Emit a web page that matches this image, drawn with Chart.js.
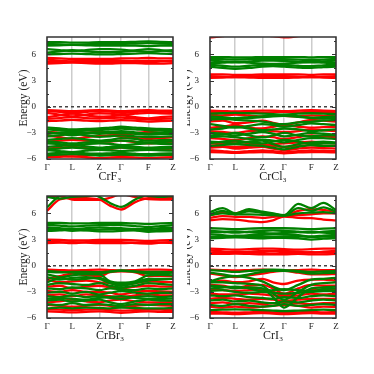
<!DOCTYPE html>
<html lang="en">
<head>
  <meta charset="UTF-8">
  <title>CrX3 band structures</title>
  <script src="https://cdn.jsdelivr.net/npm/chart.js"></script>
  <style>
    body { margin: 0; background: #fff; }
    #wrap { position: relative; width: 374px; height: 374px; overflow: hidden; }
    .clip { position: absolute; overflow: hidden; }
    canvas { position: absolute; }
  </style>
</head>
<body>
<div id="wrap"></div>
<script>
// k-path: high symmetry points and the sampled points along the path
const K_POS    = [0, 0.2, 0.415, 0.588, 0.804, 1];
const K_LABELS = ['Γ', 'L', 'Z', 'Γ', 'F', 'Z'];
const K_PATH   = [0, 0.1, 0.2, 0.31, 0.415, 0.5, 0.588, 0.7, 0.804, 0.9, 1.0];
const Y_MAJOR  = [-6, -3, 0, 3, 6];
const Y_MINOR  = [-4.5, -1.5, 1.5, 4.5, 7.5];
const TITLES   = ['CrF₃', 'CrCl₃', 'CrBr₃', 'CrI₃'];

// band energies (eV) at K_PATH
const crf3Green = [
  [7.4,7.4,7.35,7.35,7.4,7.4,7.4,7.45,7.5,7.45,7.4],
  [7.2,7.15,7.1,7.15,7.2,7.2,7.2,7.25,7.3,7.25,7.2],
  [7.0,7.05,7.1,7.05,7.0,7.0,7.0,7.0,6.95,7.0,7.0],
  [6.6,6.5,6.4,6.5,6.6,6.6,6.55,6.4,6.3,6.4,6.5],
  [6.2,6.35,6.5,6.35,6.25,6.25,6.3,6.45,6.6,6.5,6.3],
  [6.0,6.05,6.1,6.05,6.0,6.0,6.05,6.1,6.15,6.1,6.05],
  [-2.4,-2.5,-2.6,-2.55,-2.5,-2.4,-2.3,-2.4,-2.5,-2.55,-2.6],
  [-2.6,-2.7,-2.8,-2.75,-2.7,-2.6,-2.5,-2.6,-2.7,-2.75,-2.8],
  [-2.9,-3.1,-3.3,-3.1,-2.95,-2.9,-2.8,-2.95,-3.1,-3.0,-2.95],
  [-3.1,-3.0,-2.9,-3.0,-3.1,-3.05,-3.0,-3.1,-3.2,-3.15,-3.1],
  [-3.4,-3.3,-3.1,-3.3,-3.45,-3.4,-3.3,-3.4,-3.5,-3.45,-3.4],
  [-3.8,-3.7,-3.6,-3.75,-3.9,-3.8,-3.6,-3.7,-3.9,-3.85,-3.8],
  [-4.0,-4.1,-4.2,-4.1,-4.0,-3.95,-3.9,-4.0,-4.1,-4.05,-4.0],
  [-4.2,-4.3,-4.45,-4.3,-4.2,-4.25,-4.4,-4.3,-4.2,-4.25,-4.3],
  [-4.6,-4.5,-4.4,-4.55,-4.7,-4.6,-4.5,-4.6,-4.7,-4.65,-4.6],
  [-4.9,-4.8,-4.7,-4.8,-4.85,-4.75,-4.7,-4.8,-4.85,-4.8,-4.75],
  [-5.0,-5.1,-5.2,-5.05,-4.95,-5.0,-5.1,-5.0,-4.95,-5.0,-5.05],
  [-5.4,-5.3,-5.25,-5.35,-5.4,-5.35,-5.3,-5.4,-5.45,-5.4,-5.35],
  [-5.6,-5.5,-5.45,-5.5,-5.6,-5.55,-5.5,-5.55,-5.6,-5.55,-5.5]
];
const crf3Red = [
  [5.6,5.55,5.5,5.5,5.5,5.5,5.55,5.55,5.6,5.55,5.55],
  [5.4,5.3,5.2,5.3,5.35,5.35,5.3,5.2,5.1,5.2,5.3],
  [5.1,5.15,5.2,5.15,5.1,5.1,5.15,5.25,5.3,5.25,5.2],
  [4.95,5.0,5.05,5.0,4.95,4.95,5.0,5.0,4.95,4.95,5.0],
  [-0.4,-0.45,-0.5,-0.45,-0.4,-0.45,-0.5,-0.45,-0.4,-0.45,-0.45],
  [-0.5,-0.6,-0.75,-0.6,-0.5,-0.55,-0.7,-0.6,-0.5,-0.55,-0.6],
  [-0.7,-0.9,-1.1,-0.9,-0.75,-0.8,-0.9,-0.8,-0.7,-0.75,-0.8],
  [-1.2,-1.0,-0.8,-1.0,-1.15,-1.1,-1.0,-1.2,-1.35,-1.2,-1.1],
  [-1.4,-1.3,-1.2,-1.3,-1.35,-1.3,-1.25,-1.35,-1.45,-1.4,-1.35],
  [-1.65,-1.6,-1.5,-1.6,-1.65,-1.6,-1.55,-1.6,-1.7,-1.65,-1.6],
  [-2.9,-3.0,-3.2,-3.0,-2.9,-3.05,-3.2,-3.05,-2.9,-3.0,-3.1],
  [-3.3,-3.5,-3.7,-3.5,-3.35,-3.3,-3.4,-3.6,-3.7,-3.6,-3.5],
  [-4.0,-3.9,-3.8,-3.9,-4.0,-4.0,-3.9,-4.05,-4.2,-4.1,-4.0],
  [-4.8,-4.7,-4.6,-4.75,-4.9,-4.85,-4.7,-4.8,-4.95,-4.9,-4.8],
  [-5.5,-5.6,-5.7,-5.6,-5.5,-5.55,-5.65,-5.55,-5.5,-5.55,-5.6],
  [-5.8,-5.75,-5.7,-5.8,-5.9,-5.85,-5.8,-5.85,-5.9,-5.85,-5.8]
];

const crcl3Green = [
  [5.7,5.7,5.65,5.65,5.7,5.7,5.7,5.7,5.65,5.7,5.7],
  [5.5,5.45,5.4,5.45,5.5,5.5,5.45,5.4,5.35,5.4,5.5],
  [5.3,5.2,5.1,5.2,5.3,5.3,5.25,5.15,5.1,5.2,5.3],
  [5.0,5.05,5.15,5.05,4.95,4.9,4.95,5.05,5.15,5.05,5.0],
  [4.8,4.7,4.6,4.7,4.8,4.8,4.8,4.7,4.65,4.75,4.8],
  [4.6,4.45,4.35,4.45,4.6,4.65,4.6,4.5,4.45,4.55,4.6],
  [-0.8,-0.75,-0.7,-0.75,-0.8,-0.85,-0.9,-0.8,-0.75,-0.8,-0.85],
  [-1.1,-1.2,-1.3,-1.2,-1.1,-1.0,-0.95,-1.1,-1.25,-1.2,-1.1],
  [-1.3,-1.35,-1.4,-1.3,-1.2,-1.1,-1.05,-1.15,-1.3,-1.35,-1.3],
  [-1.5,-1.4,-1.5,-1.6,-1.7,-1.9,-2.0,-1.8,-1.7,-1.6,-1.5],
  [-2.0,-2.2,-2.4,-2.2,-2.0,-2.1,-2.3,-2.1,-1.9,-2.0,-2.1],
  [-2.6,-2.5,-2.3,-2.5,-2.7,-2.6,-2.5,-2.6,-2.8,-2.7,-2.6],
  [-3.0,-3.1,-3.3,-3.1,-2.9,-3.1,-3.4,-3.2,-3.0,-3.1,-3.2],
  [-3.3,-3.2,-3.0,-3.3,-3.5,-3.3,-3.0,-3.3,-3.4,-3.3,-3.3],
  [-3.5,-3.4,-3.5,-3.7,-3.8,-3.9,-4.1,-3.8,-3.6,-3.6,-3.7],
  [-4.0,-4.1,-4.2,-4.0,-3.9,-4.3,-4.6,-4.3,-4.1,-4.0,-4.1],
  [-4.2,-4.0,-3.9,-4.1,-4.2,-4.0,-3.8,-4.0,-4.3,-4.2,-4.2],
  [-4.5,-4.4,-4.3,-4.4,-4.5,-4.7,-4.9,-4.6,-4.4,-4.5,-4.5]
];
const crcl3Red = [
  [7.95,8.1,8.3,8.3,8.2,8.1,7.95,8.1,8.3,8.3,8.2],
  [3.7,3.7,3.65,3.65,3.7,3.7,3.7,3.7,3.65,3.7,3.7],
  [3.5,3.45,3.4,3.45,3.5,3.5,3.5,3.45,3.4,3.45,3.5],
  [3.3,3.35,3.4,3.35,3.3,3.3,3.3,3.35,3.4,3.35,3.3],
  [-0.45,-0.5,-0.55,-0.5,-0.45,-0.45,-0.5,-0.45,-0.4,-0.45,-0.5],
  [-0.6,-0.65,-0.6,-0.65,-0.7,-0.65,-0.6,-0.65,-0.6,-0.6,-0.65],
  [-0.9,-1.0,-0.9,-1.0,-1.1,-1.0,-1.05,-1.1,-1.0,-1.05,-1.1],
  [-1.7,-1.6,-1.9,-1.8,-1.6,-1.85,-2.1,-1.8,-1.5,-1.6,-1.7],
  [-2.4,-2.3,-2.1,-2.4,-2.5,-2.3,-2.1,-2.3,-2.4,-2.35,-2.3],
  [-2.8,-2.9,-3.0,-2.8,-2.7,-2.8,-2.9,-2.8,-2.6,-2.7,-2.8],
  [-3.6,-3.7,-3.8,-3.6,-3.4,-3.5,-3.7,-3.5,-3.3,-3.4,-3.5],
  [-4.2,-4.3,-4.0,-4.2,-4.4,-4.3,-4.2,-4.1,-4.0,-4.1,-4.2],
  [-4.5,-4.55,-4.6,-4.5,-4.4,-4.5,-4.6,-4.5,-4.4,-4.5,-4.5],
  [-4.7,-4.6,-4.8,-4.7,-4.6,-4.8,-5.0,-4.8,-4.7,-4.75,-4.8],
  [-5.0,-5.1,-5.2,-5.1,-5.0,-5.1,-5.25,-5.1,-5.0,-5.05,-5.1],
  [-5.2,-5.25,-5.3,-5.25,-5.2,-5.25,-5.35,-5.25,-5.2,-5.2,-5.25]
];

const crbr3Green = [
  [6.7,8.0,8.3,8.3,7.9,7.2,6.75,7.6,8.2,8.3,8.2],
  [7.9,7.7,7.9,8.0,8.1,8.3,8.2,8.2,8.0,7.9,8.0],
  [4.9,4.9,4.85,4.85,4.9,4.9,4.9,4.85,4.8,4.85,4.9],
  [4.7,4.6,4.5,4.6,4.65,4.7,4.65,4.55,4.45,4.55,4.65],
  [4.4,4.3,4.2,4.3,4.4,4.35,4.3,4.2,4.2,4.3,4.35],
  [4.2,4.15,4.0,4.1,4.15,4.2,4.2,4.1,4.0,4.1,4.15],
  [4.0,4.05,4.2,4.05,3.95,3.95,4.0,4.05,3.9,3.95,4.0],
  [-0.6,-0.7,-0.8,-0.85,-0.9,-0.7,-0.55,-0.7,-0.9,-0.85,-0.8],
  [-0.7,-0.75,-0.7,-0.7,-0.75,-0.65,-0.6,-0.65,-0.7,-0.7,-0.75],
  [-1.9,-1.4,-1.1,-1.0,-1.0,-1.8,-1.95,-1.8,-1.1,-1.05,-1.1],
  [-1.0,-1.3,-1.6,-1.5,-1.4,-1.9,-2.1,-1.9,-1.5,-1.5,-1.5],
  [-1.3,-1.6,-1.4,-1.3,-1.5,-2.0,-2.3,-2.0,-1.7,-1.6,-1.5],
  [-2.2,-2.0,-2.1,-2.2,-2.0,-2.3,-2.5,-2.3,-2.0,-2.1,-2.2],
  [-2.6,-2.7,-2.5,-2.6,-2.8,-2.6,-2.7,-2.8,-2.6,-2.7,-2.6],
  [-3.1,-3.0,-3.2,-3.0,-3.3,-3.1,-2.9,-3.1,-3.2,-3.1,-3.1],
  [-3.5,-3.6,-3.4,-3.6,-3.5,-3.7,-3.8,-3.6,-3.5,-3.6,-3.5],
  [-3.8,-3.7,-3.8,-3.9,-3.7,-3.6,-3.5,-3.7,-3.8,-3.8,-3.75],
  [-4.0,-3.9,-4.1,-4.0,-3.9,-4.2,-4.4,-4.1,-3.9,-4.0,-4.0],
  [-4.4,-4.5,-4.3,-4.5,-4.4,-4.5,-4.6,-4.4,-4.5,-4.4,-4.4],
  [-4.9,-4.8,-4.9,-4.8,-4.85,-4.9,-4.8,-4.85,-4.9,-4.9,-4.85]
];
const crbr3Red = [
  [6.3,7.6,7.8,7.75,7.6,6.9,6.45,7.3,7.75,7.8,7.8],
  [7.9,8.0,7.6,7.55,7.55,7.8,8.2,7.9,7.65,7.6,7.6],
  [3.0,2.95,2.9,2.9,2.95,2.95,2.95,2.9,2.85,2.9,2.95],
  [2.8,2.7,2.6,2.7,2.8,2.75,2.7,2.6,2.55,2.65,2.75],
  [2.6,2.65,2.7,2.65,2.6,2.6,2.6,2.65,2.7,2.65,2.6],
  [-0.45,-0.5,-0.55,-0.5,-0.45,-0.5,-0.55,-0.5,-0.45,-0.45,-0.5],
  [-1.5,-1.2,-0.9,-1.1,-1.2,-0.75,-0.65,-0.75,-1.2,-1.15,-1.2],
  [-1.6,-1.9,-1.8,-1.7,-1.9,-2.0,-2.2,-2.0,-1.8,-1.85,-1.9],
  [-2.4,-2.3,-2.6,-2.4,-2.3,-2.5,-2.6,-2.4,-2.3,-2.4,-2.4],
  [-2.9,-3.0,-2.8,-3.0,-3.0,-3.1,-3.3,-3.0,-2.9,-2.95,-3.0],
  [-3.4,-3.3,-3.5,-3.3,-3.4,-3.5,-3.6,-3.4,-3.3,-3.4,-3.4],
  [-4.2,-4.1,-3.9,-4.1,-4.2,-4.0,-3.9,-4.1,-4.2,-4.2,-4.15],
  [-4.5,-4.6,-4.7,-4.6,-4.5,-4.6,-4.7,-4.6,-4.5,-4.55,-4.6],
  [-5.0,-5.05,-5.1,-5.05,-5.0,-5.1,-5.15,-5.1,-5.05,-5.05,-5.1],
  [-5.25,-5.3,-5.35,-5.3,-5.25,-5.3,-5.4,-5.3,-5.25,-5.3,-5.3]
];

const cri3Green = [
  [6.15,6.6,6.0,6.5,6.2,6.0,5.8,7.1,6.6,7.2,6.4],
  [5.9,6.3,5.9,6.25,6.1,5.95,5.75,6.6,6.3,6.7,6.2],
  [5.8,6.0,5.9,5.9,5.85,5.8,5.75,6.0,6.1,6.15,6.0],
  [4.3,4.25,4.2,4.25,4.3,4.3,4.3,4.25,4.2,4.25,4.3],
  [4.0,3.9,3.8,3.9,4.0,4.05,4.0,3.9,3.8,3.9,4.0],
  [3.8,3.85,3.95,3.85,3.75,3.7,3.75,3.85,3.9,3.8,3.75],
  [3.6,3.5,3.4,3.5,3.55,3.6,3.6,3.5,3.35,3.45,3.55],
  [3.3,3.35,3.45,3.35,3.3,3.3,3.35,3.4,3.3,3.35,3.3],
  [3.15,3.2,3.25,3.2,3.15,3.2,3.2,3.15,3.0,3.1,3.15],
  [-0.5,-0.6,-0.7,-0.6,-0.5,-0.45,-0.5,-0.6,-0.7,-0.65,-0.6],
  [-0.8,-1.0,-1.2,-1.0,-0.7,-0.6,-0.6,-0.7,-0.9,-0.85,-0.8],
  [-1.8,-1.4,-1.2,-1.4,-1.8,-2.4,-2.8,-2.2,-1.6,-1.5,-1.4],
  [-1.9,-1.9,-2.0,-2.1,-2.3,-3.2,-3.9,-3.0,-2.2,-2.0,-1.9],
  [-2.3,-2.4,-2.6,-2.5,-2.6,-3.6,-4.8,-3.6,-2.6,-2.5,-2.4],
  [-2.6,-2.5,-2.4,-2.6,-2.9,-2.8,-2.7,-2.8,-2.9,-2.7,-2.6],
  [-2.9,-2.8,-3.0,-3.1,-3.0,-3.1,-3.2,-3.1,-3.0,-2.9,-2.9],
  [-3.4,-3.5,-3.4,-3.6,-3.7,-3.8,-3.6,-3.7,-3.5,-3.4,-3.5],
  [-4.0,-3.9,-4.1,-4.0,-4.2,-4.3,-4.1,-4.2,-4.0,-3.9,-4.0],
  [-4.5,-4.6,-4.4,-4.6,-4.7,-4.6,-4.4,-4.6,-4.5,-4.4,-4.5],
  [-5.1,-5.05,-5.0,-5.05,-5.1,-5.15,-5.2,-5.15,-5.1,-5.05,-5.1]
];
const cri3Red = [
  [5.8,6.1,6.0,6.4,6.1,5.9,5.8,6.3,6.5,6.4,6.2],
  [5.5,5.7,5.6,5.6,5.5,5.6,5.7,5.8,5.9,6.0,6.0],
  [5.2,5.35,5.3,5.1,5.0,5.2,5.65,5.5,5.45,5.3,5.2],
  [1.95,1.9,1.85,1.9,1.95,1.95,1.9,1.85,1.9,1.95,1.95],
  [1.75,1.65,1.5,1.6,1.7,1.7,1.7,1.6,1.5,1.6,1.7],
  [1.5,1.55,1.6,1.55,1.45,1.4,1.45,1.5,1.55,1.5,1.45],
  [1.35,1.35,1.4,1.35,1.3,1.3,1.3,1.35,1.3,1.3,1.35],
  [-0.45,-0.5,-0.55,-0.5,-0.45,-0.5,-0.55,-0.5,-0.45,-0.5,-0.5],
  [-0.9,-1.1,-1.3,-1.1,-0.9,-0.7,-0.6,-0.8,-1.0,-1.0,-0.95],
  [-1.9,-1.7,-1.9,-1.8,-1.5,-1.9,-2.1,-1.7,-1.6,-1.6,-1.7],
  [-2.2,-2.3,-2.5,-2.3,-2.2,-2.6,-3.2,-2.6,-2.2,-2.3,-2.3],
  [-2.7,-2.8,-2.9,-2.8,-2.7,-3.0,-3.4,-3.1,-2.8,-2.75,-2.8],
  [-3.2,-3.3,-3.3,-3.2,-3.3,-3.4,-3.5,-3.4,-3.2,-3.3,-3.2],
  [-3.8,-3.7,-3.8,-3.9,-3.8,-3.9,-4.0,-3.9,-3.8,-3.8,-3.8],
  [-4.3,-4.2,-4.4,-4.3,-4.4,-4.3,-4.2,-4.3,-4.4,-4.3,-4.3],
  [-4.7,-4.8,-4.7,-4.8,-4.7,-4.6,-4.5,-4.6,-4.8,-4.7,-4.75],
  [-5.3,-5.35,-5.4,-5.35,-5.3,-5.35,-5.4,-5.35,-5.3,-5.35,-5.3],
  [-5.5,-5.5,-5.55,-5.5,-5.45,-5.5,-5.55,-5.5,-5.45,-5.5,-5.5]
];

const GREEN = '#008000';
const RED   = '#ff0000';
const SERIF = "'Liberation Serif', 'DejaVu Serif', serif";

// panel placement: plot area left/top in page pixels
const panels = [
  { title: TITLES[0], green: crf3Green,  red: crf3Red,  px: 47,  py: 37 },
  { title: TITLES[1], green: crcl3Green, red: crcl3Red, px: 210, py: 37 },
  { title: TITLES[2], green: crbr3Green, red: crbr3Red, px: 47,  py: 196 },
  { title: TITLES[3], green: cri3Green,  red: cri3Red,  px: 210, py: 196 }
];

const PAD_L = 47, PAD_T = 17, PAD_R = 14, X_H = 30;
const CW = 187, CH = 170;

// box frame + inward ticks on both y sides
const framePlugin = {
  id: 'frame',
  afterDatasetsDraw(chart) {
    const { ctx, chartArea: a, scales: { y } } = chart;
    ctx.save();
    ctx.strokeStyle = '#333';
    ctx.lineWidth = 1;
    const tick = (v, len) => {
      const py = Math.round(y.getPixelForValue(v)) + 0.5;
      ctx.beginPath();
      ctx.moveTo(a.left, py); ctx.lineTo(a.left + len, py);
      ctx.moveTo(a.right, py); ctx.lineTo(a.right - len, py);
      ctx.stroke();
    };
    Y_MAJOR.forEach(v => tick(v, 4));
    Y_MINOR.forEach(v => tick(v, 2));
    ctx.lineWidth = 1.5;
    ctx.strokeRect(a.left, a.top, a.right - a.left, a.bottom - a.top);
    ctx.restore();
  }
};

const wrap = document.getElementById('wrap');

panels.forEach(p => {
  const clip = document.createElement('div');
  clip.className = 'clip';
  const clipLeft = p.px > 187 ? 187 : 0;
  clip.style.left = clipLeft + 'px';
  clip.style.top = (p.py - PAD_T) + 'px';
  clip.style.width = (374 - clipLeft) + 'px';
  clip.style.height = CH + 'px';
  const canvas = document.createElement('canvas');
  canvas.width = CW; canvas.height = CH;
  canvas.style.left = (p.px - PAD_L - clipLeft) + 'px';
  canvas.style.top = '0px';
  clip.appendChild(canvas);
  wrap.appendChild(clip);

  const bandSet = (band, color) => ({
    data: K_PATH.map((k, i) => ({ x: k, y: band[i] })),
    borderColor: color,
    borderWidth: 2.3,
    pointRadius: 0,
    fill: false,
    cubicInterpolationMode: 'monotone'
  });

  // first dataset is drawn last (on top): dashed zero line, then green, then red
  const datasets = [
    {
      data: [{ x: 0, y: 0 }, { x: 1, y: 0 }],
      borderColor: '#444',
      borderWidth: 1.5,
      borderDash: [3, 3],
      pointRadius: 0
    },
    ...p.green.map(b => bandSet(b, GREEN)),
    ...p.red.map(b => bandSet(b, RED))
  ];

  new Chart(canvas.getContext('2d'), {
    type: 'line',
    data: { datasets },
    options: {
      responsive: false,
      animation: false,
      layout: { padding: { left: 0, top: PAD_T, right: PAD_R, bottom: CH - PAD_T - 122 - X_H } },
      plugins: { legend: { display: false }, tooltip: { enabled: false } },
      scales: {
        x: {
          type: 'linear', min: 0, max: 1,
          afterBuildTicks: s => { s.ticks = K_POS.map(v => ({ value: v })); },
          afterFit: s => { s.height = X_H; },
          ticks: {
            autoSkip: false, maxRotation: 0, padding: 3,
            color: '#222', font: { family: SERIF, size: 9 },
            callback: (v, i) => K_LABELS[i]
          },
          grid: { color: '#cccccc', lineWidth: 1.5, drawTicks: false },
          border: { display: false },
          title: {
            display: true, text: p.title, color: '#222',
            font: { family: SERIF, size: 12 },
            padding: { top: 0, bottom: 5 }
          }
        },
        y: {
          min: -6, max: 8,
          afterBuildTicks: s => { s.ticks = Y_MAJOR.map(v => ({ value: v })); },
          afterFit: s => { s.width = PAD_L; },
          ticks: {
            padding: 3, color: '#222', font: { family: SERIF, size: 9 },
            callback: v => String(v).replace('-', '−')
          },
          grid: { display: false },
          border: { display: false },
          title: {
            display: true, text: 'Energy (eV)', color: '#222',
            font: { family: SERIF, size: 11.5 },
            padding: { top: 17, bottom: 0 }
          }
        }
      }
    },
    plugins: [framePlugin]
  });
});
</script>
</body>
</html>
